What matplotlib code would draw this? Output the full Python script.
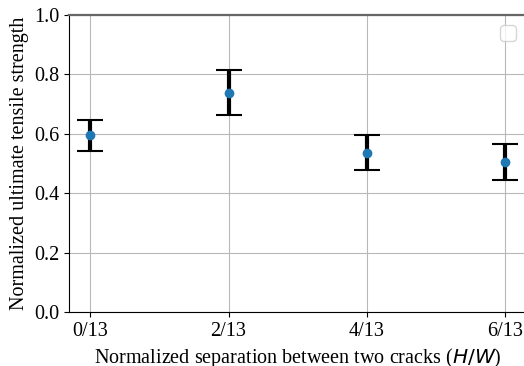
import matplotlib
matplotlib.use("Agg")
import matplotlib.pyplot as plt

# separation cases and measured strength (mean +/- error)
labels = ["0/13", "2/13", "4/13", "6/13"]
sep = [0, 2, 4, 6]
uts_mean = [0.595, 0.739, 0.536, 0.506]
uts_err = [0.053, 0.077, 0.059, 0.060]

plt.rcParams["font.family"] = ["Liberation Serif", "DejaVu Serif"]
plt.rcParams["font.size"] = 14.5

fig = plt.figure(figsize=(5.24, 3.66), dpi=100)
ax = fig.add_axes([0.1322, 0.1475, 0.872, 0.8115])

ax.errorbar(sep, uts_mean, yerr=uts_err, fmt="o", color="#1f77b4",
            ecolor="black", elinewidth=3, capsize=9.5, capthick=1.5,
            markersize=6, zorder=3)

ax.set_xlim(-0.3, 6.3)
ax.set_ylim(0, 1.0)
ax.set_xticks(sep)
ax.set_xticklabels(labels)
ax.set_yticks([0.0, 0.2, 0.4, 0.6, 0.8, 1.0])
ax.grid(True, color="#b8b8b8", linewidth=0.8)
ax.set_axisbelow(True)

ax.spines["right"].set_visible(False)
ax.spines["top"].set_color("#666666")
ax.spines["top"].set_linewidth(1.6)

ax.set_xlabel("Normalized separation between two cracks ($H/W$)")
ax.set_ylabel("Normalized ultimate tensile strength")
ax.legend()

fig.savefig("out.png", dpi=100)
